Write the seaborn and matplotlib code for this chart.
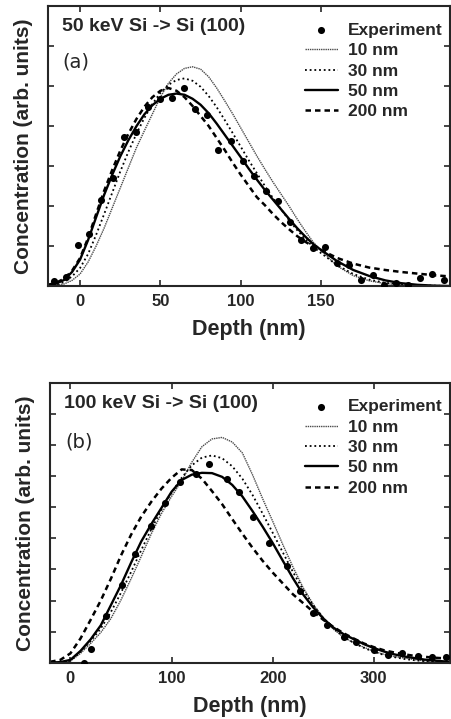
import numpy as np
import pandas as pd
import matplotlib
matplotlib.use("Agg")
import matplotlib.pyplot as plt
import seaborn as sns

# ---------------- data: panel (a) 50 keV ----------------
a_exp_x = [-16, -8.9, -1.2, 5.6, 13.2, 20.4, 27.5, 34.9, 42.3, 49.8, 57.2, 64.4, 71.6, 78.9,
           86.1, 93.7, 101.2, 108.4, 115.6, 123.3, 130.5, 137.7, 145, 152.6, 160, 167.3,
           174.9, 182.2, 189.4, 196.5, 204, 211.6, 218.9, 226.6]
a_exp_y = [0.12, 0.23, 1.03, 1.3, 2.15, 2.69, 3.73, 3.86, 4.48, 4.68, 4.71, 4.96, 4.42, 4.28,
           3.4, 3.63, 3.13, 2.76, 2.38, 2.13, 1.59, 1.15, 0.94, 0.98, 0.57, 0.53,
           0.15, 0.28, 0.03, 0.07, 0.03, 0.19, 0.30, 0.15]

a_x = [-20, -15, -10, -5, 0, 5, 10, 15, 20, 25, 30, 35, 40, 45, 50, 55, 60, 65, 70, 75, 80,
       85, 90, 95, 100, 105, 110, 115, 120, 125, 130, 135, 140, 145, 150, 160, 170, 180,
       190, 200, 210, 220, 230]
a_10 = [0.0, 0.02, 0.05, 0.14, 0.3, 0.6, 1.0, 1.45, 1.95, 2.45, 2.95, 3.45, 3.88, 4.3, 4.72,
        5.07, 5.3, 5.44, 5.48, 5.42, 5.23, 4.95, 4.63, 4.3, 3.95, 3.6, 3.25, 2.92, 2.6,
        2.3, 2.0, 1.68, 1.38, 1.1, 0.88, 0.5, 0.26, 0.13, 0.06, 0.03, 0.01, 0.0, 0.0]
a_30 = [0.01, 0.03, 0.1, 0.24, 0.45, 0.8, 1.28, 1.8, 2.33, 2.86, 3.35, 3.8, 4.2, 4.55, 4.83,
        5.03, 5.15, 5.19, 5.13, 4.98, 4.75, 4.47, 4.15, 3.82, 3.48, 3.14, 2.82, 2.5, 2.2,
        1.92, 1.65, 1.4, 1.18, 0.98, 0.82, 0.52, 0.3, 0.16, 0.08, 0.04, 0.02, 0.01, 0.0]
a_50 = [0.02, 0.06, 0.15, 0.35, 0.66, 1.15, 1.72, 2.28, 2.78, 3.24, 3.64, 3.99, 4.29, 4.52, 4.68,
        4.78, 4.81, 4.78, 4.68, 4.53, 4.32, 4.06, 3.78, 3.5, 3.22, 2.93, 2.66, 2.4, 2.16,
        1.92, 1.68, 1.45, 1.24, 1.05, 0.9, 0.62, 0.4, 0.25, 0.14, 0.07, 0.03, 0.01, 0.0]
a_200 = [0.03, 0.08, 0.18, 0.38, 0.7, 1.2, 1.8, 2.38, 2.9, 3.38, 3.8, 4.17, 4.48, 4.72, 4.88,
         4.95, 4.88, 4.72, 4.5, 4.25, 4.0, 3.7, 3.4, 3.08, 2.78, 2.5, 2.22, 2.02, 1.8,
         1.6, 1.42, 1.25, 1.11, 0.99, 0.9, 0.7, 0.56, 0.46, 0.4, 0.35, 0.31, 0.27, 0.24]

# ---------------- data: panel (b) 100 keV ----------------
b_exp_x = [13.1, 20.3, 35.4, 50.8, 63.9, 79.3, 93.4, 108.1, 123.9, 137, 155, 166.5, 181,
           196.6, 213.7, 227.2, 240, 254, 270.4, 282.6, 300, 314, 327.8, 343.6, 357.4, 371]
b_exp_y = [-0.02, 0.43, 1.51, 2.51, 3.51, 4.39, 5.14, 5.82, 6.08, 6.40, 5.92, 5.48, 4.68,
           3.85, 3.10, 2.31, 1.59, 1.22, 0.84, 0.68, 0.41, 0.25, 0.30, 0.23, 0.19, 0.17]

b_x = [-20, -10, 0, 10, 20, 30, 40, 50, 60, 70, 80, 90, 100, 110, 120, 130, 140, 150, 160,
       170, 180, 190, 200, 210, 220, 230, 240, 250, 260, 270, 280, 290, 300, 310, 320, 330,
       340, 350, 360, 370, 375]
b_10 = [0.0, 0.01, 0.05, 0.3, 0.62, 0.97, 1.42, 2.02, 2.7, 3.42, 4.15, 4.8, 5.35, 5.85, 6.45,
        6.95, 7.2, 7.25, 7.1, 6.75, 6.05, 5.28, 4.55, 3.8, 3.08, 2.42, 1.88, 1.45, 1.08,
        0.82, 0.64, 0.5, 0.36, 0.27, 0.2, 0.15, 0.1, 0.06, 0.03, 0.01, 0.0]
b_30 = [0.0, 0.01, 0.07, 0.35, 0.7, 1.1, 1.63, 2.25, 2.92, 3.62, 4.3, 4.92, 5.47, 5.95, 6.35,
        6.6, 6.67, 6.58, 6.32, 5.92, 5.4, 4.8, 4.18, 3.55, 2.92, 2.35, 1.85, 1.44, 1.1,
        0.84, 0.64, 0.48, 0.35, 0.25, 0.18, 0.12, 0.08, 0.05, 0.03, 0.02, 0.01]
b_50 = [0.0, 0.02, 0.09, 0.38, 0.75, 1.2, 1.85, 2.5, 3.22, 3.9, 4.46, 4.98, 5.5, 5.88, 6.05,
        6.11, 6.1, 5.98, 5.72, 5.35, 4.88, 4.38, 3.85, 3.28, 2.72, 2.2, 1.78, 1.42, 1.13,
        0.92, 0.76, 0.6, 0.47, 0.36, 0.27, 0.2, 0.15, 0.1, 0.07, 0.04, 0.03]
b_200 = [0.03, 0.09, 0.3, 0.78, 1.38, 2.0, 2.7, 3.45, 4.12, 4.7, 5.18, 5.6, 5.95, 6.22, 6.2,
         5.92, 5.52, 5.1, 4.62, 4.15, 3.7, 3.28, 2.9, 2.55, 2.2, 1.92, 1.64, 1.38, 1.15,
         0.95, 0.78, 0.62, 0.5, 0.4, 0.33, 0.27, 0.22, 0.19, 0.16, 0.14, 0.13]

labels = ["10 nm", "30 nm", "50 nm", "200 nm"]
titles = ["50 keV Si -> Si (100)", "100 keV Si -> Si (100)"]
panel_tags = ["(a)", "(b)"]

sns.set_style("ticks")
plt.rcParams["font.family"] = ["Liberation Sans", "DejaVu Sans"]
plt.rcParams["font.weight"] = "bold"

fig = plt.figure(figsize=(4.52, 7.19), dpi=100)
ax1 = fig.add_axes([0.106, 0.6022, 0.889, 0.3895])
ax2 = fig.add_axes([0.111, 0.0783, 0.884, 0.389])

styles = [dict(ls=(0, (1, 0.6)), lw=1.0, color="#4a4a4a"),
          dict(ls=(0, (1, 1.6)), lw=1.3, color="black"),
          dict(ls="-", lw=1.7, color="black"),
          dict(ls=(0, (2.2, 1.6)), lw=1.8, color="black")]

def draw(ax, x, curves, ex, ey, xlim, ylim, xticks, title, tag, tag_y, leg_y):
    sns.scatterplot(x=ex, y=ey, ax=ax, color="black", s=26, edgecolor="black",
                    linewidth=0, label="Experiment", zorder=5, clip_on=True)
    for ys, lab, st in zip(curves, labels, styles):
        sns.lineplot(x=x, y=ys, ax=ax, label=lab, linestyle=st["ls"], linewidth=st["lw"],
                     color=st["color"], estimator=None, sort=False)
    ax.set_xlim(*xlim)
    ax.set_ylim(*ylim)
    ax.set_xticks(xticks)
    ax.set_xticklabels([str(t) for t in xticks], fontsize=12, fontweight="bold")
    ax.set_yticks(np.arange(0, ylim[1] + 0.01, 1))
    ax.set_yticklabels([])
    ax.tick_params(direction="in", length=4, width=1.2, top=True, right=True, pad=6)
    for sp in ax.spines.values():
        sp.set_linewidth(1.5)
        sp.set_visible(True)
    ax.set_xlabel("Depth (nm)", fontsize=15.5, fontweight="bold", labelpad=7)
    ax.set_ylabel("Concentration (arb. units)", fontsize=15, fontweight="bold", labelpad=5)
    ax.text(0.034, 0.926, title, transform=ax.transAxes, fontsize=14, fontweight="bold",
            va="center", ha="left")
    ax.text(0.037, tag_y, tag, transform=ax.transAxes, fontsize=14, fontweight="normal",
            family="DejaVu Sans", va="center", ha="left")
    ax.legend(loc="upper right", bbox_to_anchor=(1.0, leg_y), frameon=False,
              handlelength=1.9, handletextpad=0.6, labelspacing=0.3, borderaxespad=0.2,
              borderpad=0.2, prop=dict(weight="bold", size=12.5))

draw(ax1, a_x, [a_10, a_30, a_50, a_200], a_exp_x, a_exp_y, (-20, 230), (0, 7),
     [0, 50, 100, 150], titles[0], panel_tags[0], 0.80, 0.965)
draw(ax2, b_x, [b_10, b_30, b_50, b_200], b_exp_x, b_exp_y, (-20, 375), (0, 9),
     [0, 100, 200, 300], titles[1], panel_tags[1], 0.79, 0.967)

fig.savefig("out.png", dpi=100)
